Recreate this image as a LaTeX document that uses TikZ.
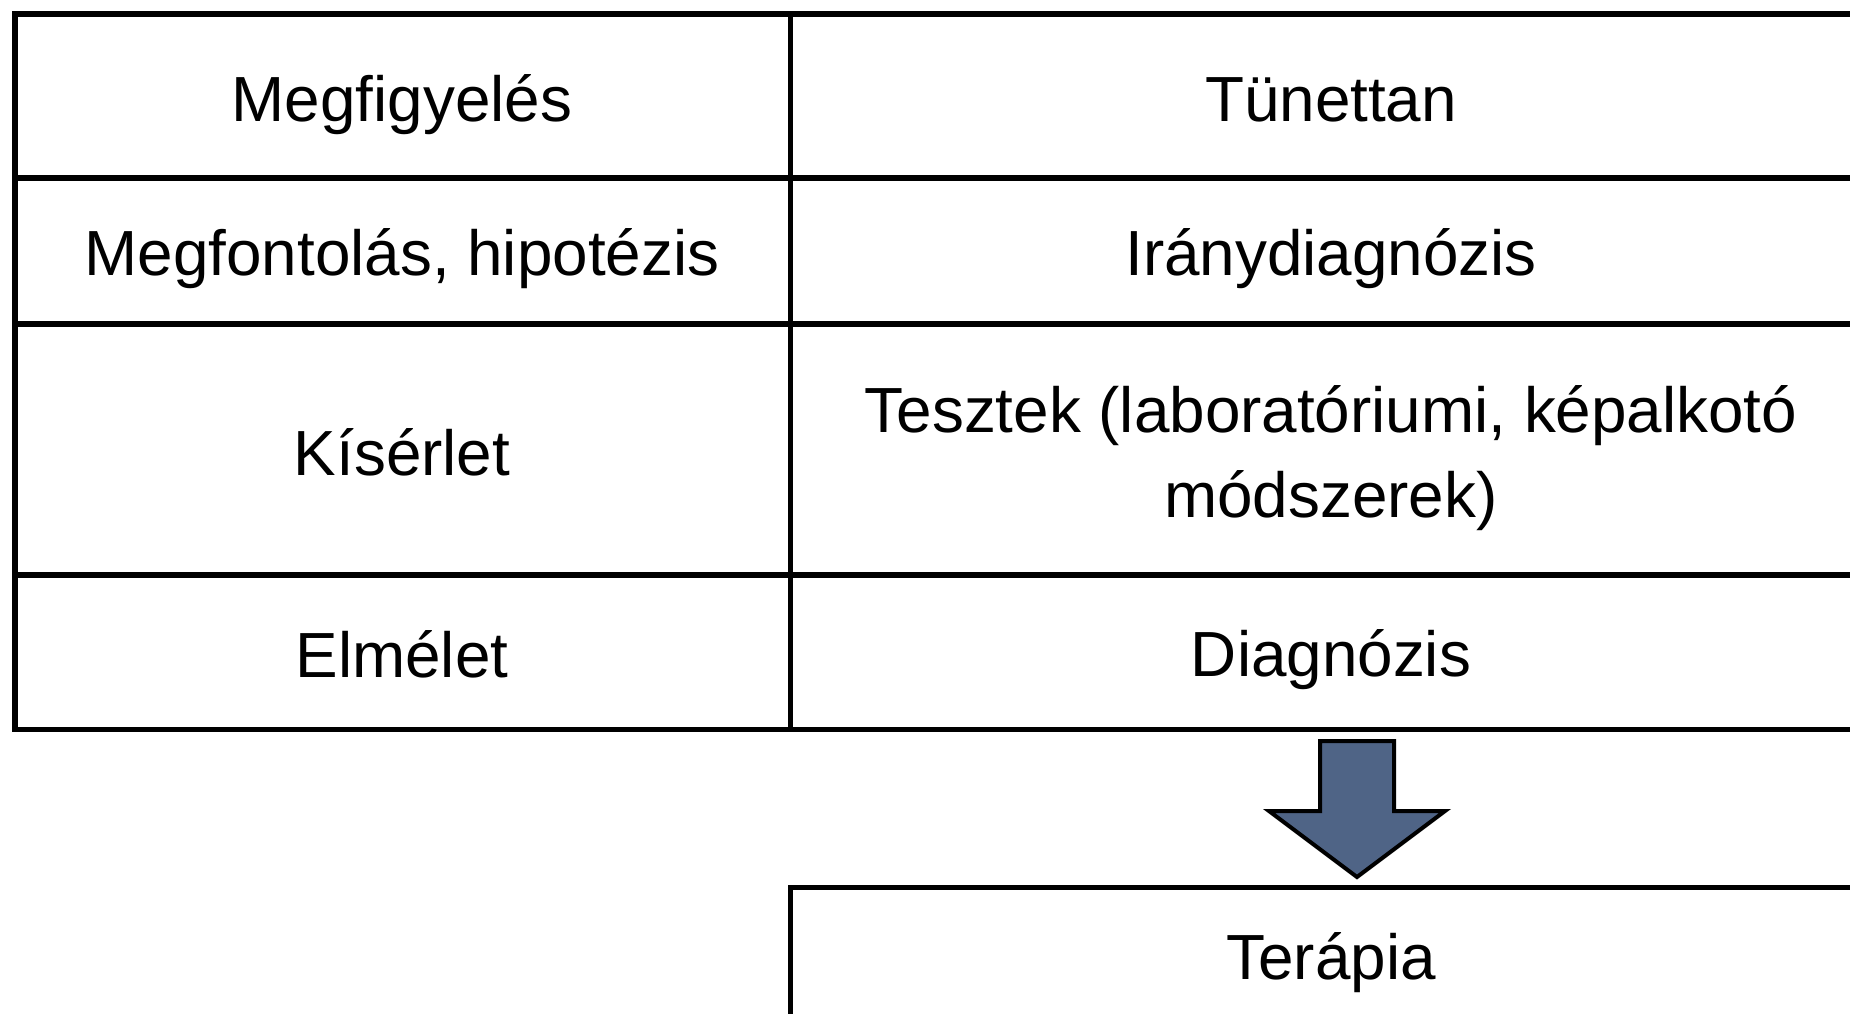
\documentclass[tikz,border=0pt]{standalone}
\usepackage{fontspec}
\setmainfont{Liberation Sans}
\definecolor{arrowfill}{HTML}{4F6486}
\begin{document}
\begin{tikzpicture}[x=0.5pt,y=-0.5pt,
  grid/.style={line width=2.6pt, line join=miter, line cap=rect},
  celltext/.style={font=\fontsize{31.9pt}{42.5pt}\selectfont, align=center, inner sep=0pt},
  oneline/.style={celltext, text height=23.6pt, text depth=6.7pt},
  bigarrow/.style={fill=arrowfill, draw=black, line width=2pt, line join=miter}]
\useasboundingbox (0,0) rectangle (1850,1013);
% table grid
\draw[grid] (1860,14) -- (15,14) -- (15,729.5) -- (1860,729.5);
\draw[grid] (790.5,14) -- (790.5,729.5);
\draw[grid] (15,178) -- (1860,178);
\draw[grid] (15,324) -- (1860,324);
\draw[grid] (15,575) -- (1860,575);
% therapy box
\draw[grid] (1860,887.5) -- (790.5,887.5) -- (790.5,1030);
% texts
\node[oneline] (m1) at (402,104.5) {Megfigyelés};
\node[oneline] (t1) at (1331,104.5) {Tünettan};
\node[oneline] (m2) at (402,259) {Megfontolás, hipotézis};
\node[oneline] (t2) at (1331,259) {Iránydiagnózis};
\node[oneline] (m3) at (402,458.5) {Kísérlet};
\node[celltext] (t3) at (1331,458) {Tesztek (laboratóriumi, képalkotó\\módszerek)};
\node[oneline] (m4) at (402,660.5) {Elmélet};
\node[oneline] (t4) at (1331,660) {Diagnózis};
\node[oneline] (ter) at (1331,963) {Terápia};
% arrow
\draw[bigarrow] (1320,741) -- (1394,741) -- (1394,811) -- (1445,811) -- (1357,877) -- (1269,811) -- (1320,811) -- cycle;
\end{tikzpicture}
\end{document}
